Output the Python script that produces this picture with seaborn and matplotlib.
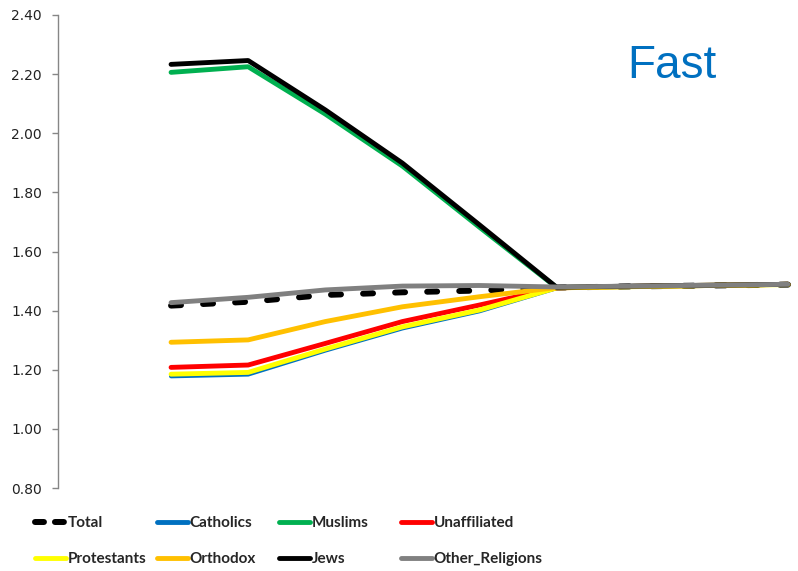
import pandas as pd
import matplotlib.pyplot as plt
import seaborn as sns
from matplotlib.lines import Line2D

# データ (9 時点, x 軸ラベルなし)
periods = [0, 1, 2, 3, 4, 5, 6, 7, 8]

total = [1.417, 1.430, 1.453, 1.462, 1.468, 1.478, 1.482, 1.485, 1.488]
catholics = [1.178, 1.184, 1.265, 1.340, 1.398, 1.476, 1.481, 1.485, 1.488]
muslims = [2.206, 2.225, 2.065, 1.889, 1.682, 1.478, 1.482, 1.485, 1.489]
unaffiliated = [1.208, 1.216, 1.289, 1.363, 1.419, 1.477, 1.482, 1.485, 1.489]
protestants = [1.185, 1.191, 1.270, 1.345, 1.402, 1.477, 1.481, 1.485, 1.488]
orthodox = [1.293, 1.301, 1.363, 1.413, 1.447, 1.478, 1.482, 1.486, 1.489]
jews = [2.233, 2.246, 2.079, 1.899, 1.690, 1.479, 1.483, 1.486, 1.489]
other_religions = [1.427, 1.445, 1.470, 1.483, 1.485, 1.480, 1.483, 1.486, 1.489]

names = ['Total', 'Catholics', 'Muslims', 'Unaffiliated',
         'Protestants', 'Orthodox', 'Jews', 'Other_Religions']
values = [total, catholics, muslims, unaffiliated,
          protestants, orthodox, jews, other_religions]
colors = ['black', '#0070C0', '#00B050', '#FF0000',
          '#FFFF00', '#FFC000', 'black', '#808080']

sns.set_style('white')
plt.rcParams['font.family'] = ['DejaVu Sans']

fig = plt.figure(figsize=(7.98, 5.71), dpi=100)
ax = fig.add_axes([58 / 798, 83 / 571, 740 / 798, 473 / 571])

handles = []
for name, vals, c in zip(names, values, colors):
    df = pd.DataFrame({'period': periods, 'value': vals})
    if name == 'Total':
        sns.lineplot(data=df, x='period', y='value', ax=ax, color=c, lw=4.3,
                     linestyle=(0, (1.67, 3.7)), dash_capstyle='round')
        handles.append(Line2D([], [], color=c, lw=4.3, linestyle=(0, (1.5, 1.84)),
                              dash_capstyle='round'))
    else:
        lw = 3.0 if name == 'Catholics' else 3.5
        sns.lineplot(data=df, x='period', y='value', ax=ax, color=c, lw=lw,
                     solid_capstyle='round', solid_joinstyle='round')
        handles.append(Line2D([], [], color=c, lw=3.5, solid_capstyle='round'))

ax.set_ylim(0.80, 2.40)
ax.set_xlim(-1.466, 8.13)
ax.set_yticks([0.8, 1.0, 1.2, 1.4, 1.6, 1.8, 2.0, 2.2, 2.4])
ax.set_yticklabels([f'{v:.2f}' for v in ax.get_yticks()])
ax.set_xticks([])
ax.set_xlabel('')
ax.set_ylabel('')
for s in ['top', 'right', 'bottom']:
    ax.spines[s].set_visible(False)
ax.spines['left'].set_color('#868686')
ax.spines['left'].set_linewidth(1.0)
ax.tick_params(axis='y', left=True, length=4.5, width=1.0, color='#868686',
               labelsize=10, labelcolor='#222222', pad=7)

ax.text(672 / 798, (571 - 66) / 571, 'Fast', transform=fig.transFigure,
        ha='center', va='center', fontsize=33, color='#0070C0',
        family=['Liberation Sans', 'DejaVu Sans'])

# 凡例: 4 列 x 2 行
col_x = [35, 157, 279, 401]
for i, x in enumerate(col_x):
    fig.legend(handles=[handles[i], handles[i + 4]],
               labels=[names[i], names[i + 4]],
               loc='upper left', bbox_to_anchor=(x / 798, (571 - 516) / 571),
               frameon=False, borderpad=0, borderaxespad=0,
               handlelength=2.0, handletextpad=0.15, labelspacing=1.45,
               prop={'family': ['Lato', 'DejaVu Sans'],
                     'weight': 'bold', 'size': 11})

fig.savefig('out.png', dpi=100)
